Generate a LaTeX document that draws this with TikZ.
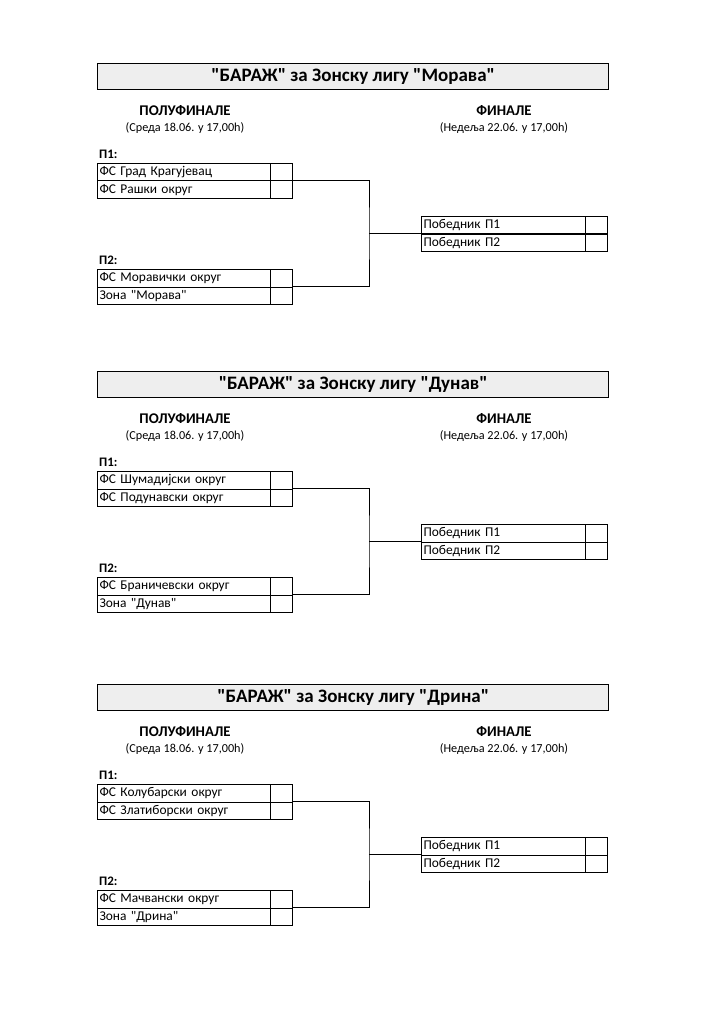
\documentclass[tikz,border=0pt]{standalone}
\usepackage{fontspec}
\setmainfont{Carlito}[Ligatures=TeXOff]
\begin{document}
\begin{tikzpicture}[x=1pt,y=-1pt,
  titlebox/.style={draw, line width=1.4pt, fill=gray!13, minimum width=511pt, minimum height=26pt, inner sep=0pt, anchor=north west},
  titletext/.style={inner sep=0pt, font=\bfseries\fontsize{19}{21}\selectfont},
  head/.style={inner sep=0pt, font=\bfseries\fontsize{14.8}{16}\selectfont},
  sub/.style={inner sep=0pt, font=\fontsize{12.2}{14}\selectfont},
  plabel/.style={inner sep=0pt, anchor=west, font=\bfseries\fontsize{13}{15}\selectfont},
  team/.style={draw, line width=1pt, anchor=north west, text width=169pt, inner xsep=2pt, inner ysep=0pt, minimum height=17.5pt, align=left, font=\fontsize{13.4}{15}\selectfont},
  fteam/.style={team, text width=160pt},
  score/.style={draw, line width=1pt, anchor=north west, minimum width=22pt, minimum height=17.5pt, inner sep=0pt},
  link/.style={line width=1pt}
]
\useasboundingbox (0,0) rectangle (724,1024);

\newcommand{\bracketsec}[7]{%
  % #1 = B (top of first box), #2 = id, #3 = zone, #4..#7 teams
  \node[titlebox] (#2t) at (97,#1-100) {};
  \node[titletext] (#2tt) at (#2t.center) {"БАРАЖ" за Зонску лигу "#3"};
  \node[head] (#2h1) at (185,#1-52) {ПОЛУФИНАЛЕ};
  \node[sub] (#2d1) at (185,#1-34.5) {(Среда 18.06. у 17,00h)};
  \node[head] (#2h2) at (504,#1-52) {ФИНАЛЕ};
  \node[sub] (#2d2) at (504,#1-34.5) {(Недеља 22.06. у 17,00h)};
  \node[plabel] (#2p1) at (99,#1-9) {П1:};
  \node[team] (#2a) at (97,#1) {#4};
  \node[team] (#2b) at (97,#1+17.5) {#5};
  \node[score] (#2as) at (270,#1) {};
  \node[score] (#2bs) at (270,#1+17.5) {};
  \node[plabel] (#2p2) at (99,#1+97) {П2:};
  \node[team] (#2c) at (97,#1+106) {#6};
  \node[team] (#2d) at (97,#1+123.5) {#7};
  \node[score] (#2cs) at (270,#1+106) {};
  \node[score] (#2ds) at (270,#1+123.5) {};
  \node[fteam] (#2f1) at (421,#1+53) {Победник П1};
  \node[fteam] (#2f2) at (421,#1+70.5) {Победник П2};
  \node[score] (#2f1s) at (585,#1+53) {};
  \node[score] (#2f2s) at (585,#1+70.5) {};
  \coordinate (#2j) at (369,#1+70.5);
  \draw[link] (#2bs.north east) -| (#2j) |- (#2ds.north east);
  \draw[link] (#2j) -- (#2f2.north west);
}

\bracketsec{163}{m}{Морава}{ФС Град Крагујевац}{ФС Рашки округ}{ФС Моравички округ}{Зона "Морава"}
\bracketsec{471}{d}{Дунав}{ФС Шумадијски округ}{ФС Подунавски округ}{ФС Браничевски округ}{Зона "Дунав"}
\bracketsec{784}{r}{Дрина}{ФС Колубарски округ}{ФС Златиборски округ}{ФС Мачвански округ}{Зона "Дрина"}
\end{tikzpicture}
\end{document}
